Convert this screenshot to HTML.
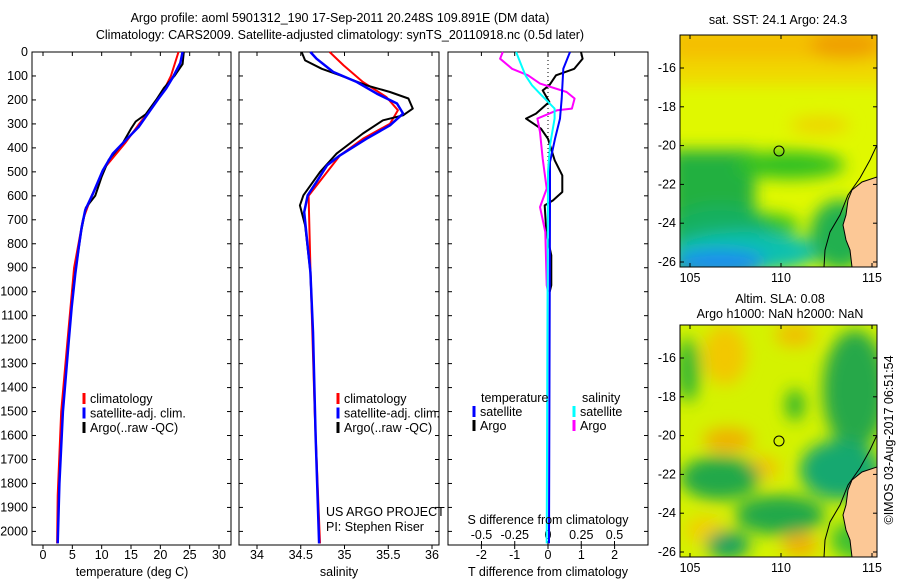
<!DOCTYPE html>
<html><head><meta charset="utf-8">
<style>
body{margin:0;background:#fff;}
svg{display:block;font-family:"Liberation Sans",sans-serif;}
text{font-size:12.5px;fill:#000;}
</style></head>
<body>
<svg id="chart" width="900" height="580" viewBox="0 0 900 580" xmlns="http://www.w3.org/2000/svg">
<defs>
 <filter id="blur" x="-20%" y="-20%" width="140%" height="140%"><feGaussianBlur stdDeviation="8"/></filter>
 <clipPath id="clipTop"><rect x="680" y="35" width="197" height="232"/></clipPath>
 <clipPath id="clipBot"><rect x="680" y="325" width="197" height="232"/></clipPath>
</defs>
<text x="340" y="22" text-anchor="middle" font-size="13">Argo profile: aoml 5901312_190 17-Sep-2011 20.248S 109.891E (DM data)</text>
<text x="340" y="39" text-anchor="middle" font-size="13">Climatology: CARS2009. Satellite-adjusted climatology: synTS_20110918.nc (0.5d later)</text>
<g id="plots"></g>
<g>
 <text x="778" y="24" text-anchor="middle">sat. SST: 24.1 Argo: 24.3</text>
 <g clip-path="url(#clipTop)">
  <rect x="680" y="35" width="197" height="232" fill="#e0f800"/>
  <g filter="url(#blur)">
   <rect x="670" y="25" width="220" height="40" fill="#f4c000"/>
   <rect x="670" y="60" width="220" height="25" fill="#f0d800"/>
   <ellipse cx="845" cy="45" rx="35" ry="15" fill="#f0a000"/>
   <ellipse cx="820" cy="125" rx="30" ry="8" fill="#f0d000"/>
   <rect x="670" y="150" width="85" height="130" fill="#20b040"/>
   <ellipse cx="790" cy="165" rx="55" ry="14" fill="#30c020"/>
   <ellipse cx="760" cy="225" rx="40" ry="12" fill="#30c020"/>
   <ellipse cx="720" cy="230" rx="50" ry="25" fill="#18b060"/>
   <ellipse cx="745" cy="252" rx="75" ry="20" fill="#10c0b0"/>
   <ellipse cx="720" cy="262" rx="45" ry="12" fill="#1a8cf0"/>
   <ellipse cx="840" cy="235" rx="30" ry="35" fill="#20b050"/>
  </g>
  <polygon points="877,177 862,182 852,190 848,200 846,215 843,225 846,240 850,250 852,267 877,267" fill="#fcc896" stroke="#000" stroke-width="1"/>
  <polyline points="877,145 870,160 860,178 848,195 840,215 830,232 825,250 824,267" fill="none" stroke="#000" stroke-width="1"/>
 </g>
 <rect x="680" y="35" width="197" height="232" fill="none" stroke="#000"/>
 <circle cx="779" cy="151" r="5" fill="none" stroke="#000"/>
</g>
<g>
 <text x="780" y="303" text-anchor="middle">Altim. SLA: 0.08</text>
 <text x="780" y="318" text-anchor="middle">Argo h1000: NaN h2000: NaN</text>
 <g clip-path="url(#clipBot)">
  <rect x="680" y="325" width="197" height="232" fill="#d4f200"/>
  <g filter="url(#blur)">
   <ellipse cx="725" cy="355" rx="22" ry="30" fill="#f2c800"/>
   <ellipse cx="795" cy="335" rx="20" ry="12" fill="#f0c000"/>
   <ellipse cx="728" cy="440" rx="25" ry="12" fill="#f0b000"/>
   <ellipse cx="760" cy="468" rx="20" ry="12" fill="#f2c400"/>
   <ellipse cx="800" cy="545" rx="18" ry="12" fill="#f0b000"/>
   <ellipse cx="705" cy="530" rx="20" ry="14" fill="#f2d000"/>
   <ellipse cx="855" cy="390" rx="32" ry="60" fill="#28a848"/>
   <ellipse cx="840" cy="470" rx="40" ry="30" fill="#18a870"/>
   <ellipse cx="720" cy="478" rx="40" ry="22" fill="#20a848"/>
   <ellipse cx="780" cy="515" rx="45" ry="20" fill="#20a848"/>
   <ellipse cx="728" cy="545" rx="22" ry="14" fill="#18a060"/>
   <ellipse cx="795" cy="405" rx="9" ry="16" fill="#28b030"/>
   <ellipse cx="688" cy="370" rx="12" ry="32" fill="#38b830"/>
   <ellipse cx="860" cy="540" rx="30" ry="20" fill="#40c030"/>
  </g>
  <polygon points="877,467 862,472 852,480 848,490 846,505 843,515 846,530 850,540 852,557 877,557" fill="#fcc896" stroke="#000" stroke-width="1"/>
  <polyline points="877,435 870,450 860,468 848,485 840,505 830,522 825,540 824,557" fill="none" stroke="#000" stroke-width="1"/>
 </g>
 <rect x="680" y="325" width="197" height="232" fill="none" stroke="#000"/>
 <circle cx="779" cy="441" r="5" fill="none" stroke="#000"/>
</g>
<text transform="translate(893,440) rotate(-90)" text-anchor="middle">©IMOS 03-Aug-2017 06:51:54</text>
<g id="maplabels"></g>
</svg>
<script>
const depthTicks=[0,100,200,300,400,500,600,700,800,900,1000,1100,1200,1300,1400,1500,1600,1700,1800,1900,2000];
const tempTicks=[0,5,10,15,20,25,30];
const salTicks=[34,34.5,35,35.5,36];
const tdiffTicks=[-2,-1,0,1,2];
const sdiffTicks=[-0.5,-0.25,0,0.25,0.5];
const sdiffLabels=["-0.5","-0.25","0","0.25","0.5"];

const tempSatDepth=[0,46,103,152,194,243,313,368,424,494,591,660,730,813,925,1064,1203,1500,1800,2050];
const tempSat=[23.8,23.4,22.2,21.0,19.7,18.3,16.3,14.1,11.9,10.2,8.5,7.2,6.6,6.1,5.5,4.9,4.4,3.4,2.8,2.5];
const tempClimDepth=[0,100,150,200,250,300,380,480,600,700,900,1200,1500,1850,2050];
const tempClim=[23.1,21.8,20.8,19.5,18.0,16.4,14.0,10.6,8.3,6.8,5.3,4.2,3.1,2.5,2.4];
const tempArgoDepth=[0,50,100,150,200,260,290,320,380,450,520,600,650,750,900,1000];
const tempArgo=[24.0,23.8,22.4,20.6,19.3,17.5,15.8,15.0,13.6,11.2,10.0,8.9,7.3,6.5,5.6,5.1];

const salSatDepth=[0,28,83,125,174,215,257,306,362,431,473,542,598,668,779,918,1168,1600,2050];
const salSat=[34.61,34.68,34.87,35.14,35.37,35.60,35.67,35.52,35.25,34.95,34.80,34.68,34.58,34.54,34.57,34.61,34.64,34.67,34.71];
const salClimDepth=[0,56,125,188,243,299,362,431,600,900,1500,2050];
const salClim=[34.83,34.99,35.21,35.48,35.61,35.52,35.21,34.95,34.59,34.61,34.66,34.72];
const salArgoDepth=[0,35,70,97,139,167,194,236,264,285,340,424,501,598,640,723,918,1000];
const salArgo=[34.51,34.55,34.74,34.95,35.25,35.52,35.73,35.78,35.67,35.44,35.21,34.91,34.72,34.53,34.49,34.55,34.61,34.62];

const tdSatDepth=[0,70,194,278,362,459,640,2050];
const tdSat=[0.66,0.46,0.41,0.36,0.21,0.06,0.06,0.03];
const tdArgoDepth=[0,28,70,97,139,160,208,257,278,320,362,452,515,584,619,640,751,848,973,1000];
const tdArgo=[0.99,1.04,0.79,0.24,0.04,-0.16,0.04,-0.36,-0.66,-0.21,0,0.2,0.43,0.43,0.15,-0.1,-0.05,0.1,0.1,0.05];
const sdSatDepth=[0,56,97,139,174,236,278,389,500,2050];
const sdSat=[-0.24,-0.2,-0.17,-0.12,-0.06,0.05,0.05,0.015,0,-0.01];
const sdArgoDepth=[0,28,70,97,132,167,194,236,243,278,334,445,570,647,751,973,1000];
const sdArgo=[-0.34,-0.36,-0.27,-0.15,-0.06,0.14,0.2,0.18,0.07,-0.08,-0.06,-0.04,-0.01,-0.06,-0.02,-0.01,0];

const lonTicks=[105,110,115];
const latTicks=[16,18,20,22,24,26];

const Y0=52, PB=545;
const yD=d=>Y0+d*0.2397;
const xT=t=>43+t*5.867;
const xS=s=>257+(s-34)*87.5;
const xTD=t=>548+t*33.3;
const xSD=s=>548+s*133;
const NS="http://www.w3.org/2000/svg";
const g=document.getElementById('plots');
function el(tag,attrs,parent){const e=document.createElementNS(NS,tag);for(const k in attrs)e.setAttribute(k,attrs[k]);(parent||g).appendChild(e);return e;}
function txt(x,y,s,anchor,parent){const t=el('text',{x:x,y:y,'text-anchor':anchor||'start'},parent);t.textContent=s;return t;}

const panels=[[32,231],[239,439],[448,648]];
panels.forEach((p,i)=>{
  const r=el('rect',{x:p[0],y:Y0,width:p[1]-p[0],height:PB-Y0,fill:'none',stroke:'#000'});
  
  
  depthTicks.forEach(d=>{
    const y=yD(d);
    el('line',{x1:p[0],x2:p[0]+4,y1:y,y2:y,stroke:'#000'});
    el('line',{x1:p[1]-4,x2:p[1],y1:y,y2:y,stroke:'#000'});
  });
});
depthTicks.forEach(d=>{
  const t=txt(28,yD(d)+4,String(d),'end');
  
  
});
function xticks(ticks,fx,labels,ly,inside){
  ticks.forEach((v,i)=>{
    const x=fx(v);
    if(inside){el('line',{x1:x,x2:x,y1:PB,y2:PB-4,stroke:'#000'});}
    else{el('line',{x1:x,x2:x,y1:PB,y2:PB+4,stroke:'#000'});el('line',{x1:x,x2:x,y1:Y0,y2:Y0+4,stroke:'#000'});}
    const t=txt(x,ly,labels?labels[i]:String(v),'middle');
    
    
  });
}
xticks(tempTicks,xT,null,559);
xticks(salTicks,xS,null,559);
xticks(tdiffTicks,xTD,null,559);
xticks(sdiffTicks,xSD,sdiffLabels,539,true);

function line(depths,vals,fx,color,name,w){
  const pts=depths.map((d,i)=>fx(vals[i]).toFixed(1)+','+yD(d).toFixed(1)).join(' ');
  const p=el('polyline',{points:pts,fill:'none',stroke:color,'stroke-width':w||2,'stroke-linejoin':'round'});
  
  
}
line(tempClimDepth,tempClim,xT,'#f00','temp-climatology-line');
line(tempArgoDepth,tempArgo,xT,'#000','temp-argo-line');
line(tempSatDepth,tempSat,xT,'#00f','temp-satellite-line',2.5);
line(salClimDepth,salClim,xS,'#f00','sal-climatology-line');
line(salArgoDepth,salArgo,xS,'#000','sal-argo-line');
line(salSatDepth,salSat,xS,'#00f','sal-satellite-line',2.5);
el('line',{x1:548,x2:548,y1:Y0,y2:yD(600),stroke:'#000','stroke-dasharray':'1,3'});
line(tdArgoDepth,tdArgo,xTD,'#000','tdiff-argo-line');
line(sdArgoDepth,sdArgo,xSD,'#f0f','sdiff-argo-line');
line(tdSatDepth,tdSat,xTD,'#00f','tdiff-satellite-line');
line(sdSatDepth,sdSat,xSD,'#0ff','sdiff-satellite-line');

function legend(x,y,color,label){
  el('line',{x1:x,x2:x,y1:y-10,y2:y+1,stroke:color,'stroke-width':3});
  const t=txt(x+6,y,label);
  
  
}
[[84,'#f00','climatology'],[84,'#00f','satellite-adj. clim.'],[84,'#000','Argo(..raw -QC)']].forEach((l,i)=>legend(l[0],403+i*14.5,l[1],l[2]));
[[338,'#f00','climatology'],[338,'#00f','satellite-adj. clim.'],[338,'#000','Argo(..raw -QC)']].forEach((l,i)=>legend(l[0],403+i*14.5,l[1],l[2]));
txt(481,402,'temperature');txt(582,402,'salinity');
legend(474,416,'#00f','satellite');legend(474,430,'#000','Argo');
legend(574,416,'#0ff','satellite');legend(574,430,'#f0f','Argo');
txt(326,516,'US ARGO PROJECT');txt(326,531,'PI: Stephen Riser');
let t;
t=txt(548,524,'S difference from climatology','middle');
t=txt(132,576,'temperature (deg C)','middle');
t=txt(339,576,'salinity','middle');
t=txt(548,576,'T difference from climatology','middle');

const ml=document.getElementById('maplabels');
const xLon=l=>690+(l-105)*18.2;
const yLat=(l,top)=>top+(l-16)*19.4;
[[35,68,267],[325,358,557]].forEach(m=>{
  lonTicks.forEach(l=>{
    el('line',{x1:xLon(l),x2:xLon(l),y1:m[0],y2:m[0]+4,stroke:'#000'},ml);
    el('line',{x1:xLon(l),x2:xLon(l),y1:m[2],y2:m[2]-4,stroke:'#000'},ml);
    const tt=txt(xLon(l),m[2]+15,String(l),'middle',ml);
    
    
  });
  latTicks.forEach(l=>{
    const y=yLat(l,m[1]);
    el('line',{x1:680,x2:684,y1:y,y2:y,stroke:'#000'},ml);
    el('line',{x1:873,x2:877,y1:y,y2:y,stroke:'#000'},ml);
    const tt=txt(676,y+4,'-'+l,'end',ml);
    
    
  });
});
</script>
</body></html>
